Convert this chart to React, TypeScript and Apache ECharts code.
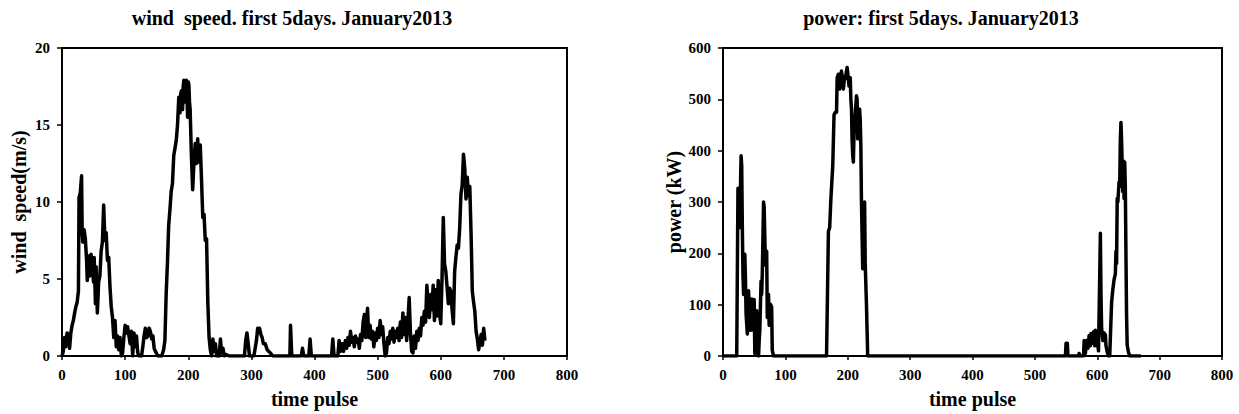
import React, { useEffect, useRef } from "react";
import * as echarts from "echarts";

// time pulse ticks and value axes
const timeTicks = [0, 100, 200, 300, 400, 500, 600, 700, 800];
const windTicks = [0, 5, 10, 15, 20];
const powerTicks = [0, 100, 200, 300, 400, 500, 600];

const windTitle = "wind  speed. first 5days. January2013";
const powerTitle = "power: first 5days. January2013";
const windAxisName = "wind  speed(m/s)";
const powerAxisName = "power (kW)";
const timeAxisName = "time pulse";

// [time pulse, wind speed m/s]
const windData: number[][] = [
  [0, 0], [2, 0.3], [4, 1.2], [6, 0.6], [8, 1.5], [10, 1.4], [12, 0.5], [14, 1.5], [16, 2], [18, 2.3],
  [20, 2.8], [22, 3.2], [24, 3.5], [26, 4.2], [27, 10.3], [29, 10.6], [31, 11.7], [32, 8], [33, 7.4], [35, 8.2],
  [37, 7.6], [39, 6.2], [40, 4.9], [42, 6.5], [44, 5.2], [46, 6.6], [48, 5.8], [50, 4.8], [51, 6.4], [53, 3.4],
  [54, 5.8], [56, 2.8], [58, 4.8], [60, 5.2], [62, 6.8], [64, 7.4], [66, 9.8], [68, 7.5], [70, 8], [72, 6.2],
  [74, 6.4], [76, 4.5], [78, 3.2], [80, 2.5], [82, 1.2], [84, 2.3], [86, 0.6], [88, 1.3], [90, 0.4], [92, 1.2],
  [94, 0], [96, 0.2], [98, 1.2], [100, 2], [102, 1.5], [104, 1.9], [106, 1.3], [108, 0.8], [110, 1.6], [112, 0],
  [114, 1.5], [116, 0.6], [118, 1.3], [120, 0.2], [122, 0], [126, 0], [128, 0.6], [130, 1.3], [132, 1.8], [134, 1.2],
  [136, 1.3], [138, 1.8], [140, 1.6], [142, 1.1], [144, 1.3], [146, 0.5], [148, 0.3], [152, 0], [158, 0], [161, 0.4],
  [163, 1], [165, 4], [167, 6], [169, 8.5], [171, 9.5], [173, 10.7], [175, 11.2], [177, 13], [179, 13.5], [181, 14],
  [183, 15], [185, 16.8], [186, 16.2], [187, 15.8], [188, 17], [189, 17.2], [190, 16.4], [191, 16], [192, 17.5], [193, 17.9],
  [194, 16.8], [195, 16.5], [196, 17.6], [197, 17.9], [198, 16.9], [199, 15.5], [200, 17.8], [201, 17.6], [202, 16.5], [203, 16],
  [205, 13], [207, 10.8], [209, 12.5], [211, 13.8], [212, 13], [213, 12.5], [215, 14.1], [216, 12.6], [217, 13], [219, 13.7],
  [221, 11.5], [223, 9], [225, 9.2], [227, 7.5], [229, 7.6], [231, 3.5], [233, 1.2], [235, 0.4], [237, 0], [239, 1.1],
  [241, 0.3], [243, 0.8], [245, 0], [249, 0], [251, 1.1], [253, 0.2], [255, 0.5], [257, 0], [260, 0.1], [265, 0],
  [289, 0], [291, 1], [293, 1.5], [295, 0.8], [297, 0], [304, 0], [308, 1], [310, 1.8], [313, 1.8], [315, 1.4],
  [317, 1.2], [319, 0.8], [322, 0.8], [325, 0.4], [330, 0.2], [334, 0], [361, 0], [362, 2], [364, 0], [379, 0],
  [381, 0.5], [383, 0], [391, 0], [393, 1.1], [395, 0], [427, 0], [429, 1.1], [431, 0], [437, 0], [439, 1],
  [441, 0.3], [444, 0.8], [446, 0.3], [449, 1], [451, 0.5], [453, 1.2], [455, 0.7], [457, 1.6], [459, 0.9], [461, 1.2],
  [463, 0.6], [465, 1.3], [467, 0.9], [469, 1.1], [471, 0.5], [473, 1.4], [475, 1], [477, 2.2], [479, 2.7], [481, 1.2],
  [484, 3.1], [486, 1.2], [488, 2], [490, 1.1], [492, 1.6], [494, 0.6], [496, 1.5], [498, 1], [500, 1.8], [502, 1.2],
  [504, 2.3], [506, 1.4], [508, 1.9], [510, 0.8], [512, 0], [514, 0.2], [516, 1.2], [518, 0.8], [520, 1.6], [522, 1.1],
  [524, 1.8], [526, 0.9], [528, 1.6], [530, 1.2], [532, 1.8], [534, 1], [536, 2.2], [538, 1.2], [540, 2.8], [542, 1.4],
  [544, 2.5], [546, 1], [548, 2.3], [550, 3.8], [552, 1.5], [554, 0.3], [556, 0.2], [558, 1.3], [560, 0.5], [562, 1.6],
  [564, 1], [566, 1.8], [568, 1.3], [570, 2.5], [572, 2], [574, 2.9], [576, 2.2], [578, 4.6], [580, 3.3], [582, 2.5],
  [584, 4], [586, 3], [588, 4.6], [590, 2.3], [592, 4.3], [594, 2.6], [596, 4.9], [598, 2.8], [600, 2.1], [602, 5],
  [604, 9], [606, 6], [608, 5.5], [610, 4.5], [612, 3.4], [614, 4.4], [616, 4.2], [618, 3], [620, 2.1], [622, 5.5],
  [624, 6.4], [626, 7.2], [628, 7], [630, 8.3], [632, 10.5], [634, 11.1], [636, 13.1], [638, 12.2], [640, 10.2], [642, 11.6],
  [644, 10.4], [646, 11], [648, 8], [650, 4.2], [652, 3.5], [654, 2.9], [656, 1.6], [658, 1.1], [660, 0.4], [662, 0.9],
  [664, 1.4], [666, 0.7], [668, 1.8], [670, 1],
];

// [time pulse, power kW]
const powerData: number[][] = [
  [0, 0], [22, 0], [24, 327], [26, 250], [28, 330], [29, 390], [30, 370], [31, 250], [32, 159], [33, 120],
  [35, 198], [36, 150], [37, 82], [39, 43], [41, 127], [42, 95], [44, 50], [46, 111], [47, 70], [49, 50],
  [50, 110], [51, 5], [52, 60], [54, 88], [55, 30], [56, 5], [57, 0], [58, 30], [59, 50], [61, 146],
  [62, 120], [63, 160], [65, 300], [66, 290], [68, 178], [70, 204], [71, 75], [73, 120], [74, 60], [76, 101],
  [78, 95], [79, 11], [81, 0], [166, 0], [169, 243], [171, 250], [173, 307], [176, 372], [178, 470], [180, 475],
  [182, 475], [183, 542], [185, 549], [187, 520], [188, 539], [190, 555], [192, 530], [193, 520], [195, 545], [196, 540],
  [198, 555], [199, 562], [201, 540], [202, 526], [204, 542], [205, 500], [206, 481], [207, 420], [208, 390], [209, 378],
  [210, 430], [211, 468], [212, 470], [214, 507], [215, 500], [216, 423], [217, 470], [219, 481], [220, 460], [221, 410],
  [222, 300], [224, 170], [225, 295], [227, 300], [228, 180], [230, 100], [232, 0], [549, 0], [550, 25], [552, 25],
  [553, 0], [570, 0], [571, 5], [572, 0], [578, 0], [579, 30], [581, 5], [583, 30], [585, 15], [587, 40],
  [589, 20], [590, 44], [592, 25], [594, 47], [596, 20], [597, 50], [599, 20], [600, 34], [602, 10], [604, 160],
  [605, 239], [606, 120], [607, 54], [609, 30], [611, 45], [613, 41], [614, 20], [616, 8], [618, 0], [620, 0],
  [622, 70], [623, 104], [625, 130], [627, 149], [629, 160], [630, 204], [631, 180], [632, 307], [633, 300], [635, 339],
  [636, 330], [637, 420], [638, 455], [639, 420], [640, 371], [641, 320], [642, 380], [643, 307], [644, 378], [645, 330],
  [646, 200], [647, 80], [648, 21], [650, 8], [652, 0], [670, 0],
];

const FONT = '"Liberation Serif", "Times New Roman", serif';

function valueAxis(gridIndex: number, ticks: number[], name: string, nameGap: number, labelMargin: number, isX: boolean) {
  return {
    type: "value",
    gridIndex,
    min: ticks[0],
    max: ticks[ticks.length - 1],
    interval: ticks[1] - ticks[0],
    name,
    nameLocation: "middle",
    nameGap,
    nameTextStyle: { color: "#000", fontFamily: FONT, fontWeight: "bold", fontSize: 20 },
    axisLine: { show: true, onZero: false, lineStyle: { color: "#000", width: 2 } },
    axisTick: { show: true, inside: false, length: isX ? 4 : 5, lineStyle: { color: "#000", width: 1.5 } },
    splitLine: { show: false },
    axisLabel: { color: "#000", fontFamily: FONT, fontWeight: "bold", fontSize: 15, margin: labelMargin },
  };
}

export default function App() {
  const ref = useRef<HTMLDivElement>(null);
  useEffect(() => {
    if (!ref.current) return;
    const chart = echarts.init(ref.current, undefined, { renderer: "svg" });
    const lineStyle = { color: "#000", width: 3.5, join: "round" };
    chart.setOption({
      animation: false,
      backgroundColor: "#fff",
      grid: [
        { left: 62, top: 48, width: 505, height: 311, show: true, borderColor: "#000", borderWidth: 2, containLabel: false },
        { left: 723, top: 48, width: 499, height: 311, show: true, borderColor: "#000", borderWidth: 2, containLabel: false },
      ],
      xAxis: [
        valueAxis(0, timeTicks, timeAxisName, 33, 11, true),
        valueAxis(1, timeTicks, timeAxisName, 33, 11, true),
      ],
      yAxis: [
        valueAxis(0, windTicks, windAxisName, 33, 12, false),
        valueAxis(1, powerTicks, powerAxisName, 39, 12, false),
      ],
      graphic: [
        {
          type: "text", x: 292, y: 8,
          style: { text: windTitle, font: `bold 20px ${FONT}`, fill: "#000", textAlign: "center", textVerticalAlign: "top", align: "center", verticalAlign: "top" },
        },
        {
          type: "text", x: 941, y: 8,
          style: { text: powerTitle, font: `bold 20px ${FONT}`, fill: "#000", textAlign: "center", textVerticalAlign: "top", align: "center", verticalAlign: "top" },
        },
      ],
      series: [
        { type: "line", xAxisIndex: 0, yAxisIndex: 0, data: windData, showSymbol: false, symbol: "none", lineStyle },
        { type: "line", xAxisIndex: 1, yAxisIndex: 1, data: powerData, showSymbol: false, symbol: "none", lineStyle },
      ],
    });
    return () => chart.dispose();
  }, []);
  return <div ref={ref} style={{ position: "absolute", left: 0, top: 0, width: 1239, height: 414 }} />;
}
